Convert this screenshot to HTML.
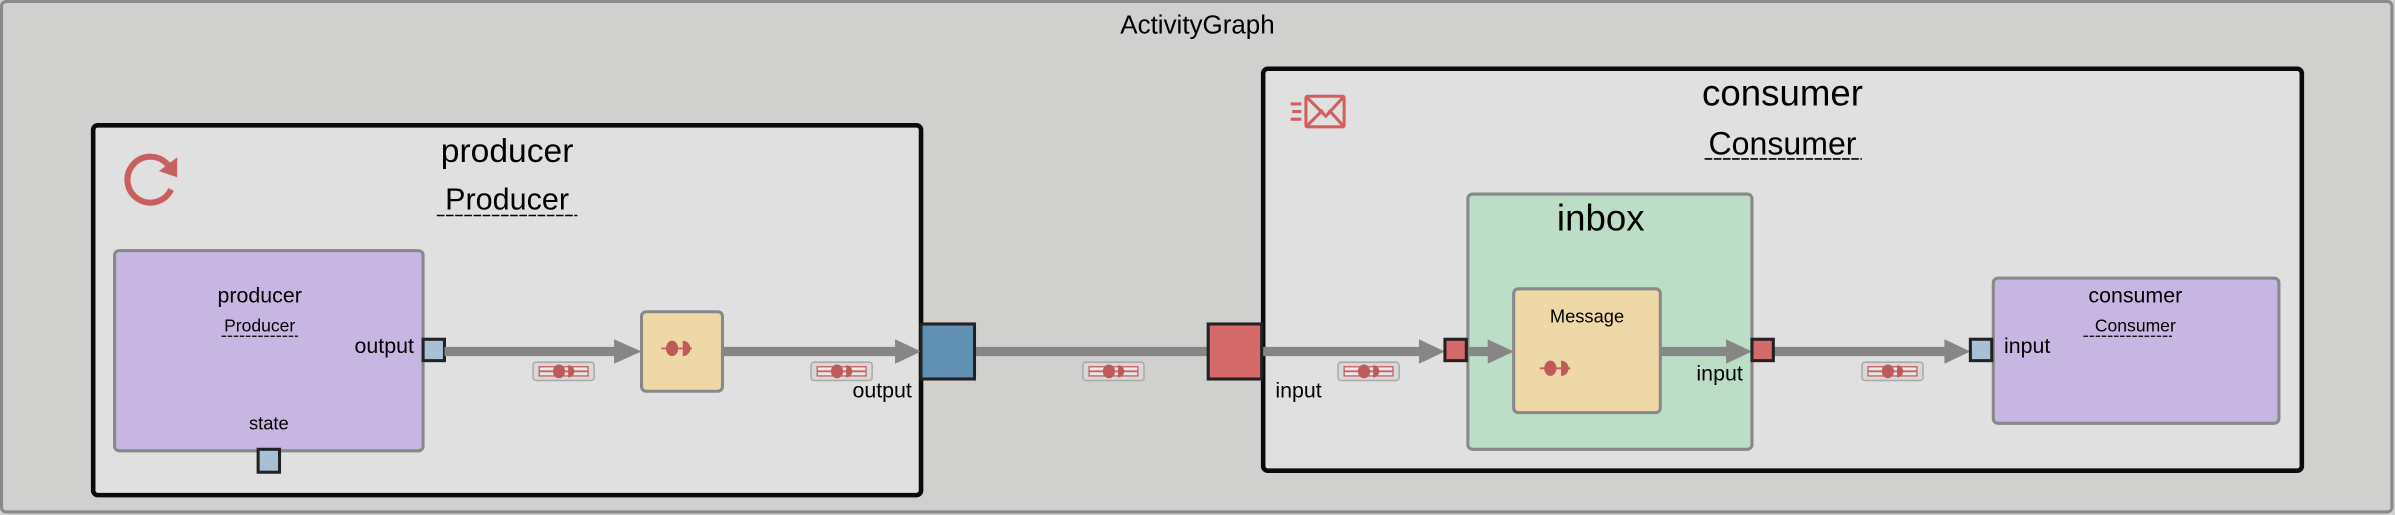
<!DOCTYPE html>
<html><head><meta charset="utf-8"><style>
html,body{margin:0;padding:0;background:#d0d0ce;}
svg{display:block;}
text{font-family:"Liberation Sans",sans-serif;fill:#000;}
</style></head><body>
<svg width="2395" height="515" viewBox="0 0 1568 337" preserveAspectRatio="none" xmlns="http://www.w3.org/2000/svg">
<defs>
<g id="tok">
  <rect x="0" y="0" width="40" height="12" rx="2" fill="#d8d8d8" stroke="#aaa" stroke-width="1"/>
  <rect x="4" y="3" width="32" height="6" fill="#e8e8e8" stroke="#c05858" stroke-width="0.8"/>
  <line x1="4" y1="6" x2="36" y2="6" stroke="#d06060" stroke-width="1.2"/>
  <ellipse cx="17" cy="6" rx="4" ry="4.5" fill="#c05a5a"/>
  <path d="M23,2 a4,4 0 0 1 0,8 z" fill="#c05a5a"/>
</g>
<g id="icn">
  <line x1="-10" y1="0" x2="10" y2="0" stroke="#d06060" stroke-width="1.2"/>
  <ellipse cx="-3" cy="0" rx="4" ry="5" fill="#c05a5a"/>
  <path d="M4,-5 a5,5 0 0 1 0,10 z" fill="#c05a5a"/>
</g>
</defs>
<rect x="1" y="1" width="1565" height="334" rx="3" fill="#d0d0ce" stroke="#8a8a8a" stroke-width="2"/>
<text x="784" y="22" font-size="17" text-anchor="middle">ActivityGraph</text>

<!-- producer -->
<rect x="61" y="82" width="542" height="242" rx="3" fill="#e0e0e0" stroke="#0a0a0a" stroke-width="3"/>
<text x="332" y="106" font-size="22" text-anchor="middle">producer</text>
<text x="332" y="137" font-size="20" text-anchor="middle">Producer</text>
<line x1="286" y1="141" x2="378" y2="141" stroke="#000" stroke-width="1" stroke-dasharray="5,1"/>
<path d="M110,108 A15,15 0 1 0 112,124" fill="none" stroke="#c86060" stroke-width="4"/>
<path d="M104,112 L116,103 L116,116 Z" fill="#c86060"/>

<rect x="75" y="164" width="202" height="131" rx="3" fill="#c7b6e2" stroke="#888" stroke-width="2"/>
<text x="170" y="198" font-size="14" text-anchor="middle">producer</text>
<text x="170" y="217" font-size="11.5" text-anchor="middle">Producer</text>
<line x1="145" y1="220" x2="195" y2="220" stroke="#000" stroke-width="0.8" stroke-dasharray="3,1"/>
<text x="271" y="231" font-size="14" text-anchor="end">output</text>
<text x="176" y="281" font-size="12" text-anchor="middle">state</text>
<rect x="277" y="222" width="14" height="14" fill="#a7c0d6" stroke="#222" stroke-width="2"/>
<rect x="169" y="294" width="14" height="15" fill="#a7c0d6" stroke="#222" stroke-width="2"/>

<!-- consumer containers -->
<rect x="827" y="45" width="680" height="263" rx="3" fill="#e0e0e0" stroke="#0a0a0a" stroke-width="3"/>
<text x="1167" y="69" font-size="24" text-anchor="middle">consumer</text>
<text x="1167" y="101" font-size="21" text-anchor="middle">Consumer</text>
<line x1="1116" y1="104" x2="1219" y2="104" stroke="#000" stroke-width="1" stroke-dasharray="5,1"/>
<g stroke="#d06060" stroke-width="2" fill="none">
<rect x="855" y="63" width="25" height="20" rx="1"/>
<path d="M855,63 L868,76 L880,63 M855,83 L866,72 M880,83 L870,72"/>
<line x1="845" y1="68" x2="852" y2="68"/><line x1="846" y1="73" x2="852" y2="73"/><line x1="845" y1="78" x2="852" y2="78"/>
</g>
<text x="835" y="260" font-size="14">input</text>
<rect x="961" y="127" width="186" height="167" rx="3" fill="#bcdec6" stroke="#888" stroke-width="2"/>
<text x="1048" y="151" font-size="24" text-anchor="middle">inbox</text>

<!-- edges -->
<g stroke="#868686" stroke-width="6">
<line x1="291" y1="230" x2="406" y2="230"/>
<line x1="473" y1="230" x2="589" y2="230"/>
<line x1="638" y1="230" x2="791" y2="230"/>
<line x1="826" y1="230" x2="932" y2="230"/>
<line x1="960" y1="230" x2="978" y2="230"/>
<line x1="1087" y1="230" x2="1133" y2="230"/>
<line x1="1161" y1="230" x2="1276" y2="230"/>
</g>
<g fill="#868686">
<path d="M402,222 L420,230 L402,238Z"/>
<path d="M586,222 L603,230 L586,238Z"/>
<path d="M929,222 L946,230 L929,238Z"/>
<path d="M974,222 L991,230 L974,238Z"/>
<path d="M1130,222 L1147,230 L1130,238Z"/>
<path d="M1273,222 L1290,230 L1273,238Z"/>
</g>
<use href="#tok" x="349" y="237"/>
<use href="#tok" x="531" y="237"/>
<use href="#tok" x="709" y="237"/>
<use href="#tok" x="876" y="237"/>
<use href="#tok" x="1219" y="237"/>

<rect x="420" y="204" width="53" height="52" rx="3" fill="#efd8a8" stroke="#888" stroke-width="2"/>
<use href="#icn" x="443" y="228"/>

<rect x="603" y="212" width="35" height="36" fill="#6090b2" stroke="#222" stroke-width="2"/>
<text x="597" y="260" font-size="14" text-anchor="end">output</text>
<rect x="791" y="212" width="35" height="36" fill="#d46a6a" stroke="#222" stroke-width="2"/>

<rect x="946" y="222" width="14" height="14" fill="#d46a6a" stroke="#222" stroke-width="2"/>
<rect x="991" y="189" width="96" height="81" rx="3" fill="#efd8a8" stroke="#888" stroke-width="2"/>
<text x="1039" y="211" font-size="12" text-anchor="middle">Message</text>
<use href="#icn" x="1018" y="241"/>
<text x="1141" y="249" font-size="14" text-anchor="end">input</text>
<rect x="1147" y="222" width="14" height="14" fill="#d46a6a" stroke="#222" stroke-width="2"/>

<rect x="1305" y="182" width="187" height="95" rx="3" fill="#c7b6e2" stroke="#888" stroke-width="2"/>
<text x="1398" y="198" font-size="14" text-anchor="middle">consumer</text>
<text x="1398" y="217" font-size="11.5" text-anchor="middle">Consumer</text>
<line x1="1364" y1="220" x2="1422" y2="220" stroke="#000" stroke-width="0.8" stroke-dasharray="3,1"/>
<rect x="1290" y="222" width="14" height="14" fill="#a7c0d6" stroke="#222" stroke-width="2"/>
<text x="1312" y="231" font-size="14">input</text>
</svg>
</body></html>
